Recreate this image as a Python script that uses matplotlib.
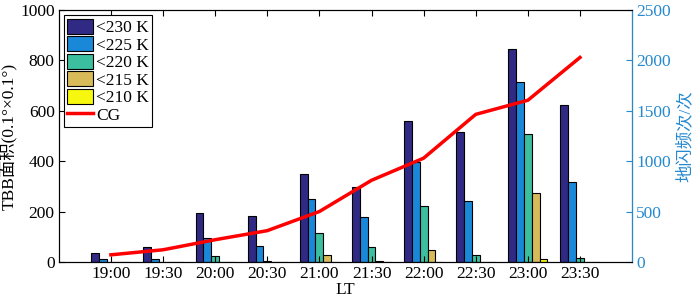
import numpy as np
import matplotlib.pyplot as plt

plt.rcParams['font.family'] = ['Liberation Serif', 'Noto Sans CJK SC']
plt.rcParams['font.size'] = 12.5
plt.rcParams['axes.unicode_minus'] = False

times = ['19:00', '19:30', '20:00', '20:30', '21:00',
         '21:30', '22:00', '22:30', '23:00', '23:30']

# TBB 面积
tbb230 = [36, 60, 194, 182, 349, 298, 559, 516, 847, 623]
tbb225 = [11, 11, 95, 65, 250, 178, 397, 242, 714, 317]
tbb220 = [1, 0, 24, 4, 115, 60, 222, 28, 506, 16]
tbb215 = [0, 0, 0, 0, 28, 2, 48, 0, 274, 0]
tbb210 = [0, 0, 0, 0, 0, 0, 0, 0, 12, 0]

# 地闪频次
cg = [70, 120, 220, 310, 500, 810, 1030, 1465, 1605, 2030]

series = [tbb230, tbb225, tbb220, tbb215, tbb210]
labels = ['<230 K', '<225 K', '<220 K', '<215 K', '<210 K']
colors = ['#302a85', '#1a88d8', '#3bbf9e', '#d8ba58', '#f8f80f']
blue = '#2489cf'

x = np.arange(len(times))
w = 0.15

fig = plt.figure(figsize=(7, 3.07), dpi=100)
ax = fig.add_axes([0.084, 0.147, 0.819, 0.82])

handles = []
for i, (vals, lab, col) in enumerate(zip(series, labels, colors)):
    b = ax.bar(x + (i - 2) * w, vals, w, color=col, edgecolor='black',
               linewidth=0.8, label=lab)
    handles.append(b)

ax.set_xlim(-1, 10)
ax.set_ylim(0, 1000)
ax.set_xticks(x)
ax.set_xticklabels(times)
ax.set_yticks([0, 200, 400, 600, 800, 1000])
ax.tick_params(direction='in', top=True, right=False, length=4, pad=3)
ax.set_xlabel('LT', labelpad=0)
ax.set_ylabel('TBB面积(0.1°×0.1°)', labelpad=2)
for s in ax.spines.values():
    s.set_linewidth(0.8)

ax2 = ax.twinx()
ln, = ax2.plot(x, cg, color='red', lw=2.5, label='CG')
ax2.set_ylim(0, 2500)
ax2.set_yticks([0, 500, 1000, 1500, 2000, 2500])
ax2.tick_params(direction='in', length=4, colors=blue, pad=3)
ax2.spines['right'].set_color(blue)
ax2.spines['right'].set_linewidth(0.8)
ax2.set_ylabel('地闪频次/次', color=blue, labelpad=4)

leg = ax.legend(handles + [ln], labels + ['CG'], loc='upper left',
                bbox_to_anchor=(0.0, 1.0), borderaxespad=0.3,
                fancybox=False, edgecolor='black', framealpha=1,
                labelspacing=0.0, handlelength=1.45, handleheight=0.95,
                handletextpad=0.2, borderpad=0.2, fontsize=12.5)
leg.get_frame().set_linewidth(0.8)
leg.set_zorder(10)

fig.savefig('out.png', dpi=100)
